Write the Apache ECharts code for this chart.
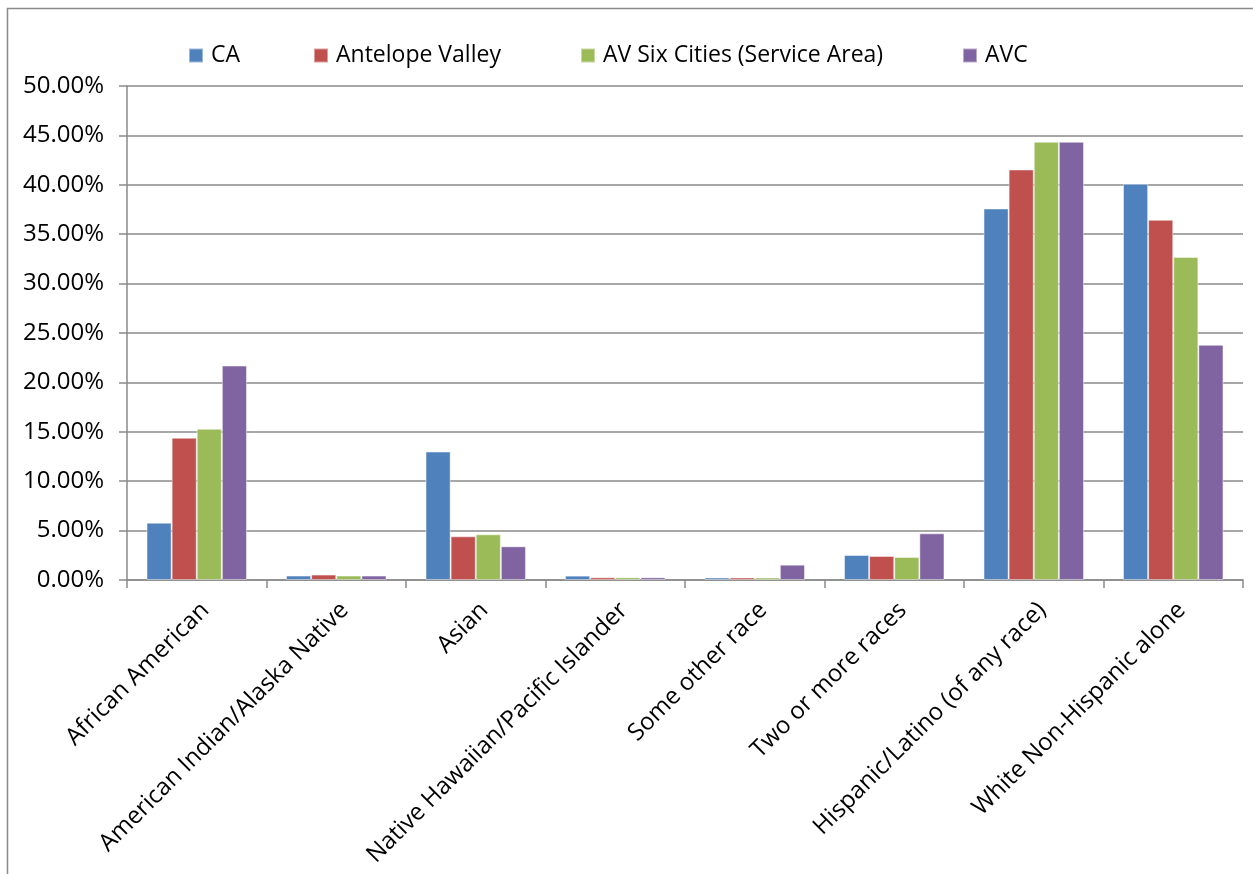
<!DOCTYPE html>
<html>
<head>
<meta charset="utf-8">
<script src="https://cdn.jsdelivr.net/npm/echarts@6/dist/echarts.min.js"></script>
<style>html,body{margin:0;padding:0;background:#fff;}#c{width:1253px;height:874px;}</style>
</head>
<body>
<div id="c"></div>
<script>
const categories = ["African American", "American Indian/Alaska Native", "Asian", "Native Hawaiian/Pacific Islander", "Some other race", "Two or more races", "Hispanic/Latino (of any race)", "White Non-Hispanic alone"];
const seriesNames = ["CA", "Antelope Valley", "AV Six Cities (Service Area)", "AVC"];
const caValues = [5.8, 0.45, 13.0, 0.44, 0.25, 2.53, 37.6, 40.1];
const avValues = [14.4, 0.55, 4.42, 0.27, 0.25, 2.43, 41.55, 36.45];
const sixCitiesValues = [15.3, 0.45, 4.62, 0.27, 0.25, 2.33, 44.35, 32.7];
const avcValues = [21.7, 0.45, 3.41, 0.27, 1.55, 4.72, 44.35, 23.8];
const colors = ["#4F81BD", "#C0504D", "#9BBB59", "#8064A2"];
const yTicks = {min: 0, max: 50, interval: 5};

const font = "'Open Sans', sans-serif";
const allValues = [caValues, avValues, sixCitiesValues, avcValues];
const legendLeft = [183, 308, 575, 957];

const chart = echarts.init(document.getElementById('c'), null, {renderer: 'canvas'});
chart.setOption({
  animation: false,
  backgroundColor: '#fff',
  graphic: [{
    type: 'rect', shape: {x: 7.5, y: 8.5, width: 1300, height: 900},
    style: {fill: 'none', stroke: '#8a8a8a', lineWidth: 1.5}, silent: true
  }],
  legend: seriesNames.map((n, i) => ({
    data: [n], left: legendLeft[i], top: 39, itemWidth: 14, itemHeight: 14,
    icon: 'rect', selectedMode: false,
    textStyle: {fontFamily: font, fontSize: 23, color: '#000', padding: [0, 0, 0, 3]}
  })),
  grid: {left: 127, right: 10, top: 86, bottom: 294, containLabel: false},
  xAxis: {
    type: 'category', data: categories,
    axisLine: {lineStyle: {color: '#8a8a8a', width: 1.5}},
    axisTick: {show: true, length: 8, lineStyle: {color: '#8a8a8a', width: 1.5}},
    axisLabel: {rotate: 45, interval: 0, margin: 18, verticalAlign: 'top', fontFamily: font, fontSize: 24, color: '#000'}
  },
  yAxis: {
    type: 'value', min: yTicks.min, max: yTicks.max, interval: yTicks.interval,
    axisLine: {show: true, lineStyle: {color: '#8a8a8a', width: 1.5}},
    axisTick: {show: true, length: 8, lineStyle: {color: '#8a8a8a', width: 1.5}},
    splitLine: {lineStyle: {color: '#8a8a8a', width: 1.5}},
    axisLabel: {margin: 23, fontFamily: font, fontSize: 24, color: '#000', formatter: v => v.toFixed(2) + '%'}
  },
  series: seriesNames.map((n, i) => ({
    name: n, type: 'bar', data: allValues[i],
    barGap: '0%', barCategoryGap: '28%',
    itemStyle: {color: colors[i], borderColor: 'rgba(255,255,255,0.45)', borderWidth: 1}
  }))
});
</script>
</body>
</html>
